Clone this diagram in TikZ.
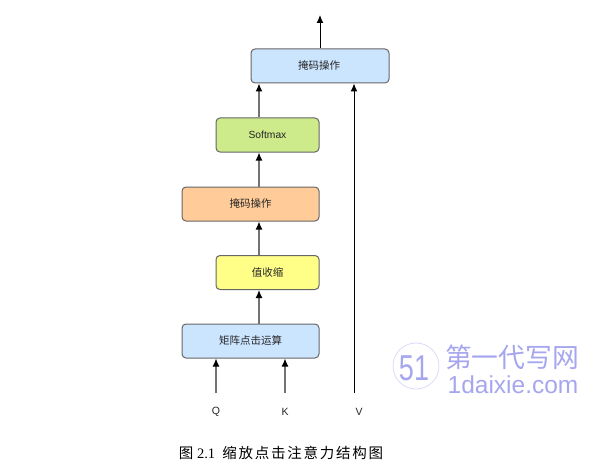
\documentclass[tikz,border=0pt]{standalone}
\usepackage{fontspec}
\setmainfont{Liberation Serif}
\setsansfont{Liberation Sans}
\newfontfamily\cjk{Noto Sans CJK SC}
\newfontfamily\cjkcap{Noto Sans CJK SC}[LetterSpace=12]
\usetikzlibrary{arrows.meta}
\definecolor{bluefill}{HTML}{CCE5FF}
\definecolor{greenfill}{HTML}{CDEB8B}
\definecolor{orangefill}{HTML}{FFCC99}
\definecolor{yellowfill}{HTML}{FFFF88}
\definecolor{edge}{HTML}{666666}
\definecolor{wm}{HTML}{A6A6EE}
\tikzset{
  x=1pt,y=-1pt,
  boxnode/.style={draw=edge,line width=1pt,rounded corners=4pt,minimum height=34pt,inner sep=0pt,font=\fontsize{10.5}{12}\cjk,text=black!85},
  arr/.style={draw=black!55,line width=1.2pt,-{Latex[black,length=8pt,width=7pt]}},
  darr/.style={draw=black,line width=1pt,-{Latex[black,length=8pt,width=7pt]}},
  inlabel/.style={font=\fontsize{10.5}{12}\sffamily,text=black!85,inner sep=0pt},
}
\begin{document}
\begin{tikzpicture}
\useasboundingbox (0,0) rectangle (594,468);
\node[boxnode,fill=bluefill,minimum width=138pt] (mask2) at (320,66) {\hspace{-2pt}掩码操作};
\node[boxnode,fill=greenfill,minimum width=103pt,font=\fontsize{10.3}{12}\sffamily] (soft) at (267.5,135) {Softmax};
\node[boxnode,fill=orangefill,minimum width=137pt] (mask1) at (250.5,204) {掩码操作};
\node[boxnode,fill=yellowfill,minimum width=103pt] (shrink) at (267.5,272.5) {值收缩};
\node[boxnode,fill=bluefill,minimum width=137pt] (dot) at (250.5,341) {矩阵点击运算};
\coordinate (cx) at (259,0);
\coordinate (out) at (320,15);
\coordinate (q) at (216,393);
\coordinate (k) at (285,393);
\coordinate (v) at (354,393);
\draw[arr] (dot.north -| cx) -- (shrink.south -| cx);
\draw[arr] (shrink.north -| cx) -- (mask1.south -| cx);
\draw[arr] (mask1.north -| cx) -- (soft.south -| cx);
\draw[arr] (soft.north -| cx) -- (mask2.south -| cx);
\draw[darr] (mask2.north -| out) -- (out);
\draw[arr] (q) -- (dot.south -| q);
\draw[arr] (k) -- (dot.south -| k);
\draw[darr] (v) -- (mask2.south -| v);
\node[inlabel] (lq) at (216,412) {Q};
\node[inlabel] (lk) at (285,412) {K};
\node[inlabel] (lv) at (359,412) {V};
\node[inner sep=0pt,font=\fontsize{14.5}{16}\selectfont] (cap) at (281,453) {{\cjkcap 图}\ 2.1\ \ {\cjkcap 缩放点击注意力结构图}};
% watermark
\node[circle,draw=wm!40,line width=0.8pt,minimum size=46pt,inner sep=0pt] (logo) at (416,366) {};
\node[inner sep=0pt,text=wm,font=\fontsize{36}{36}\selectfont\sffamily,xscale=0.75] (logotext) at (414,368) {51};
\node[inner sep=0pt,text=wm,font=\fontsize{26.8}{28}\cjk] (wm1) at (512,357) {第一代写网};
\node[inner sep=0pt,text=wm,font=\fontsize{24.5}{26}\sffamily] (wm2) at (513,385) {1daixie.com};
\end{tikzpicture}
\end{document}
